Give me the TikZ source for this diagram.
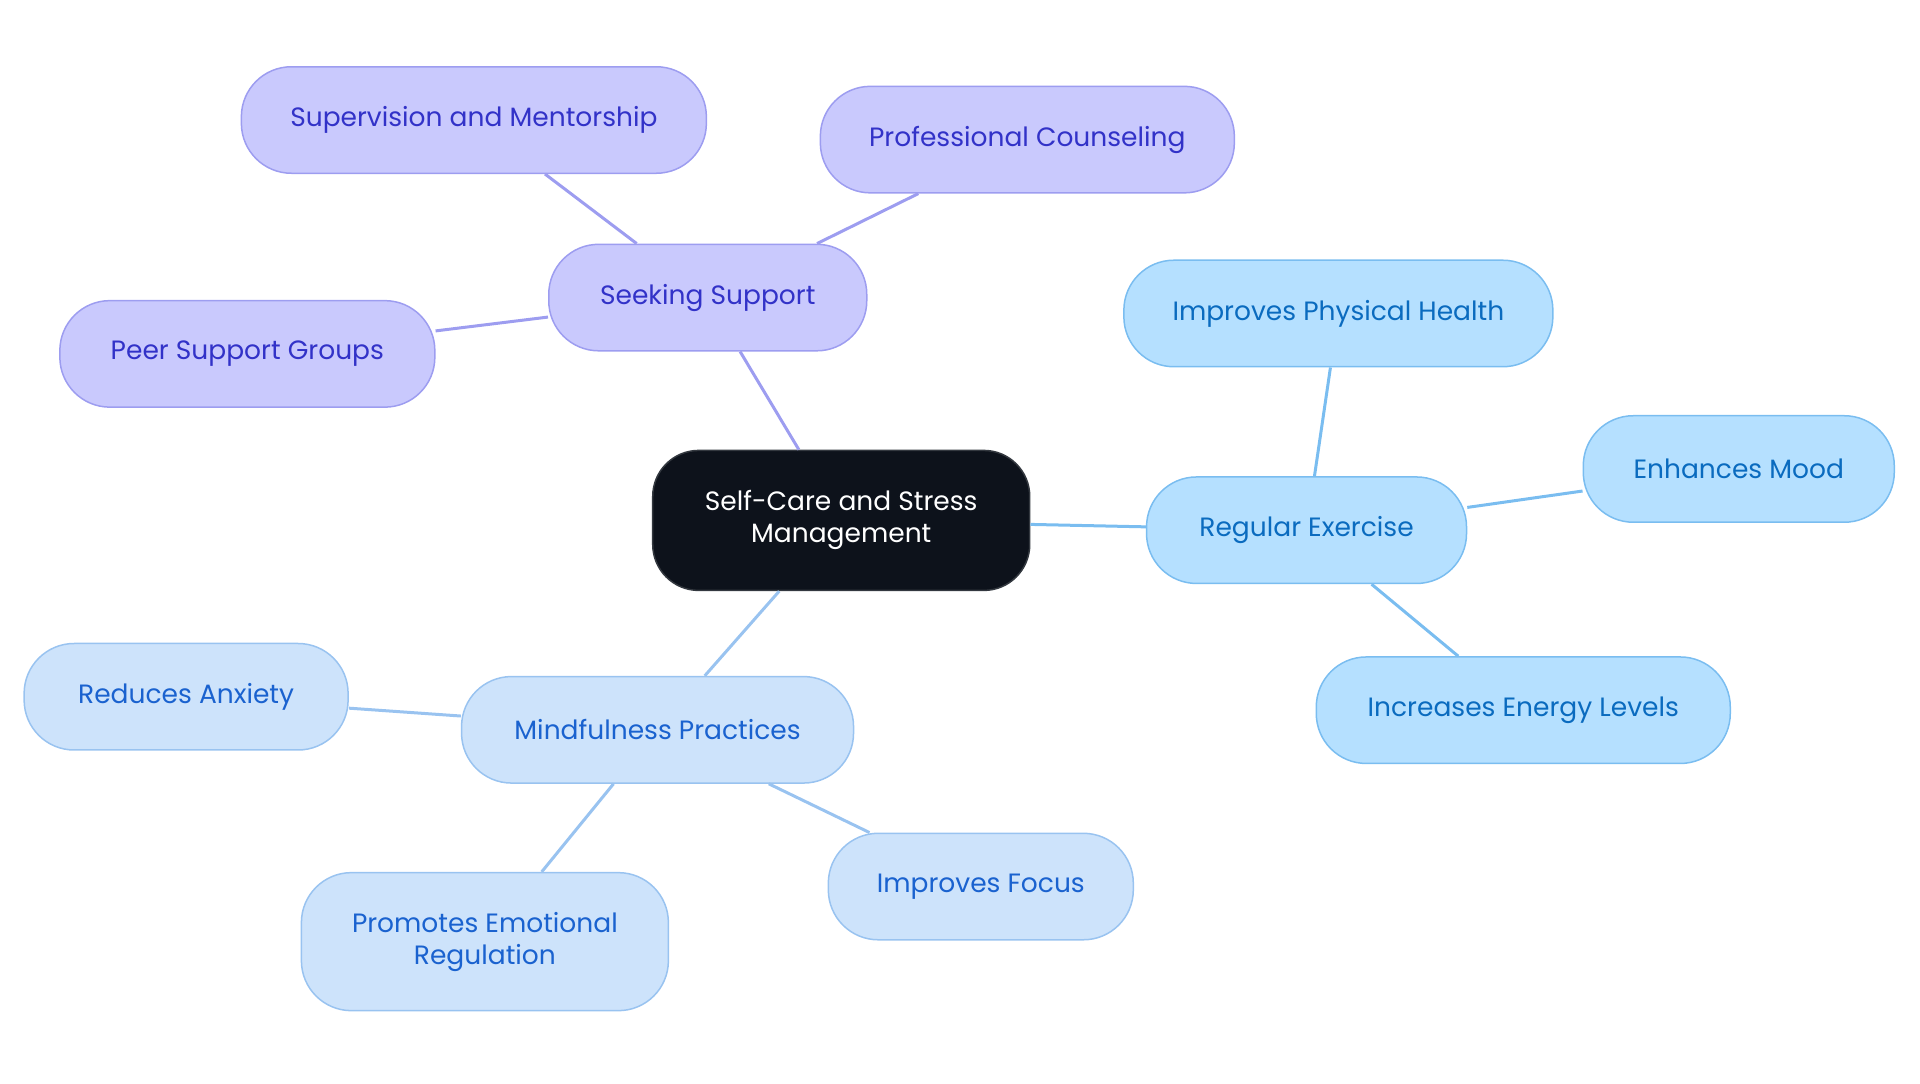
\documentclass[tikz,border=0pt]{standalone}
\usepackage{fontspec}
\setmainfont{Poppins}
\usepackage{tikz}
\usetikzlibrary{positioning}

\definecolor{rootfill}{HTML}{0D121B}
\definecolor{rootline}{HTML}{33383F}
\definecolor{supfill}{HTML}{C9C9FD}
\definecolor{supline}{HTML}{9D9DF0}
\definecolor{suptext}{HTML}{3232C8}
\definecolor{exfill}{HTML}{B5E0FF}
\definecolor{exline}{HTML}{7ABDF0}
\definecolor{extext}{HTML}{0A6BBF}
\definecolor{mifill}{HTML}{CDE3FB}
\definecolor{miline}{HTML}{99C3F0}
\definecolor{mitext}{HTML}{1A62CF}

\begin{document}
\begin{tikzpicture}[x=1.2245pt, y=-1.2245pt,
    every node/.style={font=\fontsize{26.5}{32}\selectfont, align=center,
        rounded corners=50pt, line width=1.5pt, inner xsep=4pt,
        minimum height=106.5pt},
    root/.style={fill=rootfill, draw=rootline, text=white,
        rounded corners=46pt, minimum height=140pt},
    sup/.style={fill=supfill, draw=supline, text=suptext},
    ex/.style={fill=exfill, draw=exline, text=extext},
    mi/.style={fill=mifill, draw=miline, text=mitext},
    supedge/.style={draw=supline, line width=3pt},
    exedge/.style={draw=exline, line width=3pt},
    miedge/.style={draw=miline, line width=3pt}]
         \useasboundingbox (0,0) rectangle (1568,885);
         % centre
         \node [root, minimum width=377pt] (C) at (687, 425) {Self-Care and Stress\\Management};
         % seeking support
         \node [sup, minimum width=318pt] (SS) at (578, 243) {Seeking Support};
         \node [sup, minimum width=465pt] (SM) at (387, 98) {Supervision and Mentorship};
         \node [sup, minimum width=414pt] (PC) at (839, 114) {Professional Counseling};
         \node [sup, minimum width=375pt] (PG) at (202, 289) {Peer Support Groups};
         % regular exercise
         \node [ex, minimum width=320pt] (RE) at (1067, 433) {Regular Exercise};
         \node [ex, minimum width=429pt] (PH) at (1093, 256) {Improves Physical Health};
         \node [ex, minimum width=311pt] (EM) at (1420, 383) {Enhances Mood};
         \node [ex, minimum width=414pt] (EL) at (1244, 580) {Increases Energy Levels};
         % mindfulness
         \node [mi, minimum width=392pt] (MP) at (537, 596) {Mindfulness Practices};
         \node [mi, minimum width=324pt] (RA) at (152, 569) {Reduces Anxiety};
         \node [mi, minimum width=367pt, minimum height=138pt] (ER) at (396, 769) {Promotes Emotional\\Regulation};
         \node [mi, minimum width=305pt] (IF) at (801, 724) {Improves Focus};
         \draw [supedge] (C) -- (SS);
         \draw [supedge] (SS) -- (SM);
         \draw [supedge] (SS) -- (PC);
         \draw [supedge] (SS) -- (PG);
         \draw [exedge] (C) -- (RE);
         \draw [exedge] (RE) -- (PH);
         \draw [exedge] (RE) -- (EM);
         \draw [exedge] (RE) -- (EL);
         \draw [miedge] (C) -- (MP);
         \draw [miedge] (MP) -- (RA);
         \draw [miedge] (MP) -- (ER);
         \draw [miedge] (MP) -- (IF);
\end{tikzpicture}
\end{document}
